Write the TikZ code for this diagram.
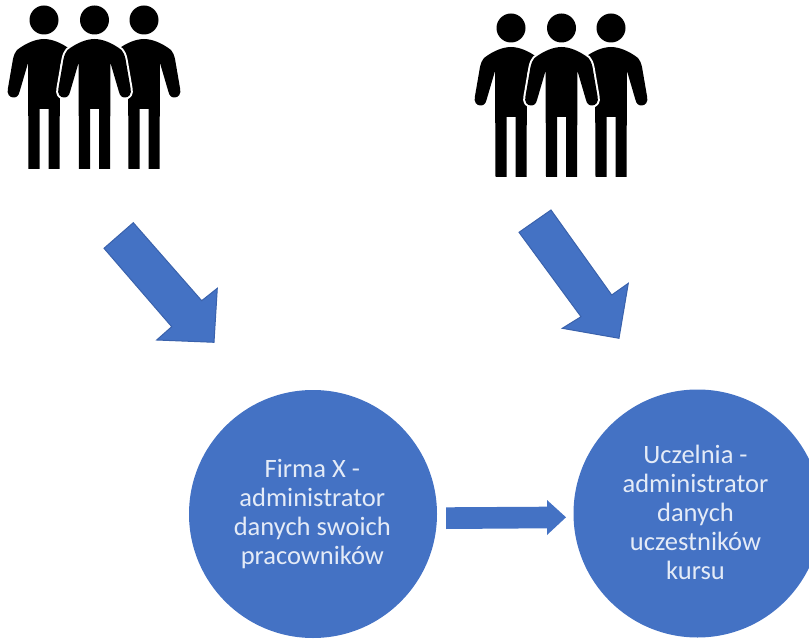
\documentclass[tikz,border=0pt]{standalone}
\usepackage{fontspec}
\setmainfont{Carlito}
\definecolor{bluefill}{HTML}{4472C4}
\definecolor{blueedge}{HTML}{3A62AC}
\definecolor{softwhite}{HTML}{E4EBF7}
\tikzset{
  px/.style={x=1pt,y=-1pt},
  bluearrow/.style={fill=bluefill,draw=blueedge,line width=1pt,line join=miter},
  flatarrow/.style={fill=bluefill,draw=none},
  bubble/.style={circle,fill=bluefill,draw=none,minimum size=248pt,inner sep=0pt},
  bubbletext/.style={text=softwhite,align=center,font=\fontsize{26.5}{29}\selectfont},
  personink/.style={fill=black,draw=none},
  halo/.style={draw=white,line width=4pt,line join=round}
}
\newcommand{\personbody}{%
  (0,39) .. controls (8,39) and (18,43) .. (27,50)
  .. controls (29,52) and (30,55) .. (31,59)
  -- (36,88) .. controls (37.5,94) and (34.5,97.5) .. (30.5,97.5)
  .. controls (27,97.5) and (25.5,95.5) .. (24.5,92)
  -- (16,63) -- (15.5,169) -- (4.5,169) -- (4.5,109) -- (-4.5,109) -- (-4.5,169) -- (-15.5,169) -- (-16,63)
  -- (-24.5,92) .. controls (-25.5,95.5) and (-27,97.5) .. (-30.5,97.5)
  .. controls (-34.5,97.5) and (-37.5,94) .. (-36,88)
  -- (-31,59) .. controls (-30,55) and (-29,52) .. (-27,50)
  .. controls (-18,43) and (-8,39) .. (0,39) -- cycle}
\newcommand{\persongroup}[2]{%
  \begin{scope}[shift={(#1,#2)}]
    \fill[personink] (44,20) circle[radius=14.5];
    \fill[personink] (144,20) circle[radius=14.5];
    \fill[personink] (94.5,20) circle[radius=14.5];
    \begin{scope}[shift={(44,0)}]\fill[personink] \personbody;\end{scope}
    \begin{scope}[shift={(144,0)}]\fill[personink] \personbody;\end{scope}
    \begin{scope}[shift={(94.5,0)}]
      \fill[white] (16,60) -- (30,85) -- (30,101) -- (16,101) -- cycle;
      \fill[white] (-16,60) -- (-30,85) -- (-30,101) -- (-16,101) -- cycle;
      \draw[halo] \personbody;
      \fill[personink] \personbody;
    \end{scope}
  \end{scope}}
\begin{document}
\begin{tikzpicture}[px]
\useasboundingbox (0,0) rectangle (809,639);
\clip (0,0) rectangle (809,639);
\persongroup{0}{0}
\persongroup{467}{8}
\draw[bluearrow] (133.3,222.7) -- (104,248.3) -- (171.7,326.7) -- (156.7,340) -- (214,342.3) -- (217.3,288.3) -- (201.7,300.7) -- cycle;
\draw[bluearrow] (551,210) -- (519,232.3) -- (581,316.7) -- (562.3,328.3) -- (619,338.3) -- (628.3,283.3) -- (611.7,295) -- cycle;
\node[bubble] (firma) at (313,514) {};
\node[bubbletext] (firmatext) at (312.3,514) {Firma X -\\administrator\\danych swoich\\pracowników};
\node[bubble] (uczelnia) at (697.5,513.5) {};
\node[bubbletext] (uczelniatext) at (695.5,512) {Uczelnia -\\administrator\\danych\\uczestników\\kursu};
\fill[flatarrow] (446,507.3) -- (547,506.7) -- (547,500) -- (566,517.3) -- (547,535) -- (547,528.3) -- (446,529) -- cycle;
\end{tikzpicture}
\end{document}
